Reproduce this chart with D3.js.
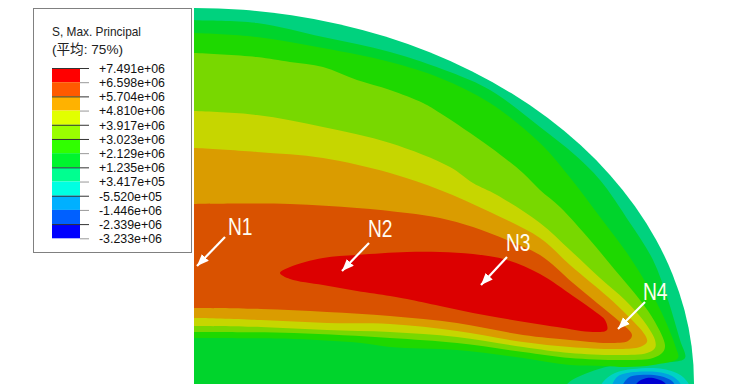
<!DOCTYPE html>
<html>
<head>
<meta charset="utf-8">
<script src="https://cdn.jsdelivr.net/npm/d3@7"></script>
<style>
    body { margin: 0; background: white; }
    svg { display: block; }
    text { font-family: "Liberation Sans", "Noto Sans CJK SC", sans-serif; }
</style>
</head>
<body>
<div id="chart"></div>
<script>

// legend
const legendLabels = ["+7.491e+06", "+6.598e+06", "+5.704e+06", "+4.810e+06", "+3.917e+06", "+3.023e+06", "+2.129e+06",
    "+1.235e+06", "+3.417e+05", "-5.520e+05", "-1.446e+06", "-2.339e+06", "-3.233e+06"]
const legendColors = ["#ff0000", "#ff5a00", "#ffb200", "#e2ff00", "#9aff00", "#30ff00", "#00f52e",
    "#00ff90", "#00ffe2", "#00b0ff", "#0060ff", "#0000ff"]
const legendDarkTicks = [1, 0, 1, 0, 1, 1, 0, 1, 0, 1, 0, 1, 0]

// contour outlines, in model units (half width 500, height 375)
const tealInner = [[-9, 364], [0, 363], [63, 360], [129, 346], [196, 331], [256, 311], [296, 293], [346, 256], [381, 228], [406, 203], [436, 160], [459, 123], [474, 83], [486, 43], [491, 25], [478, 21], [446, 21], [416, 17], [396, 11], [378, 3], [366, -5], [-9, -5]]
const greenBand = [[-9, 350], [0, 350], [63, 346], [129, 335], [196, 321], [246, 305], [296, 280], [346, 240], [378, 203], [406, 166], [433, 130], [456, 93], [471, 63], [482, 35], [484, 25], [459, 18], [433, 16], [409, 17], [376, 18], [329, 25], [263, 33], [196, 36], [167, 40], [100, 44], [0, 45], [-9, 45]]
const limeBand = [[-9, 330], [0, 330], [63, 326], [96, 321], [129, 316], [163, 303], [196, 293], [229, 280], [246, 270], [296, 236], [329, 210], [346, 193], [366, 176], [396, 143], [421, 113], [446, 83], [461, 61], [471, 38], [469, 31], [459, 25], [433, 23], [376, 25], [329, 31], [263, 40], [196, 45], [100, 50], [0, 51], [-9, 51]]
const yellowBand = [[-9, 272], [0, 272], [63, 268], [129, 256], [196, 240], [256, 216], [279, 200], [303, 188], [346, 160], [376, 133], [406, 105], [431, 83], [449, 63], [461, 43], [461, 35], [453, 30], [426, 28], [376, 30], [329, 36], [263, 46], [196, 51], [133, 53], [67, 56], [0, 57], [-9, 57]]
const amberBand = [[-9, 235], [0, 235], [63, 231], [129, 225], [196, 210], [246, 193], [296, 171], [346, 145], [376, 118], [414, 86], [433, 68], [451, 48], [453, 41], [446, 36], [426, 34], [376, 36], [329, 41], [263, 52], [196, 59], [133, 60], [67, 63], [0, 65], [-9, 65]]
const orangeBand = [[-9, 179], [0, 179], [96, 179], [163, 175], [213, 170], [246, 165], [279, 156], [313, 143], [346, 128], [379, 100], [403, 80], [426, 61], [438, 48], [434, 42], [416, 40], [396, 41], [376, 43], [329, 48], [263, 60], [196, 67], [133, 71], [67, 74], [0, 75], [-9, 75]]
const redBand = [[86, 110], [96, 116], [129, 125], [163, 128], [213, 131], [246, 131], [279, 129], [313, 123], [346, 109], [379, 87], [403, 70], [411, 63], [413, 53], [399, 51], [363, 56], [313, 64], [279, 70], [246, 77], [213, 84], [196, 87], [163, 92], [129, 98], [96, 104]]
const cyanBlob = [[406, -7], [409, 1], [421, 10], [439, 14], [469, 14], [489, 6], [496, -7]]
const skyBlob = [[418, -7], [423, 6], [433, 10], [463, 11], [478, 7], [486, 0], [488, -7]]
const blueBlob = [[428, -7], [434, 5], [446, 8], [466, 7], [479, 1], [481, -7]]
const deepBlob = [[441, -7], [443, 0], [453, 5], [463, 4], [471, 0], [473, -7]]

const bands = [tealInner, greenBand, limeBand, yellowBand, amberBand, orangeBand, redBand, cyanBlob, skyBlob, blueBlob, deepBlob]
const bandColors = ["#00d42c", "#1ed800", "#78d800", "#c6d600", "#da9c00", "#d95200", "#dc0000", "#00d2c4", "#00a2e0", "#0058dc", "#0000d2"]

// node callouts
const nodeNames = ["N1", "N2", "N3", "N4"]
const nodeTails = [[31, 146], [175, 140], [313, 126], [451, 81]]
const nodeTips = [[3, 117], [148, 112], [287, 98], [424, 54]]
const nodeLabels = [[34, 148], [174, 146], [312, 132], [449, 83]]

const width = 736
const height = 390

const x = d3.scaleLinear().domain([0, 500]).range([194, 694])
const y = d3.scaleLinear().domain([0, 375]).range([383, 8])

const svg = d3.select("#chart")
    .append("svg")
    .attr("width", width)
    .attr("height", height)
    .attr("viewBox", [0, 0, width, height])

const defs = svg.append("defs")

defs.append("clipPath")
    .attr("id", "plate")
    .append("path")
    .attr("d", `M${x(0)},${y(-1)} L${x(0)},${y(375)} A${x(500) - x(0)},${y(0) - y(375)} 0 0 1 ${x(500)},${y(0)} L${x(500)},${y(-1)} Z`)

defs.append("marker")
    .attr("id", "head")
    .attr("viewBox", "0 0 10 8")
    .attr("refX", 10)
    .attr("refY", 4)
    .attr("markerUnits", "userSpaceOnUse")
    .attr("markerWidth", 12)
    .attr("markerHeight", 10)
    .attr("orient", "auto")
    .append("path")
    .attr("d", "M0,0 L10,4 L0,8 Z")
    .attr("fill", "white")

const plate = svg.append("g").attr("clip-path", "url(#plate)")

// outermost band is the background of the plate
plate.append("rect")
    .attr("x", x(0))
    .attr("y", y(375))
    .attr("width", x(500) - x(0))
    .attr("height", y(-1) - y(375))
    .attr("fill", "#00d27e")

const contour = d3.line()
    .x(d => x(d[0]))
    .y(d => y(d[1]))
    .curve(d3.curveCatmullRomClosed.alpha(0.5))

plate.selectAll("path.band")
    .data(bands)
    .join("path")
    .attr("class", "band")
    .attr("d", contour)
    .attr("fill", (d, i) => bandColors[i])

// callouts
svg.selectAll("line.arrow")
    .data(nodeNames)
    .join("line")
    .attr("class", "arrow")
    .attr("x1", (d, i) => x(nodeTails[i][0]))
    .attr("y1", (d, i) => y(nodeTails[i][1]))
    .attr("x2", (d, i) => x(nodeTips[i][0]))
    .attr("y2", (d, i) => y(nodeTips[i][1]))
    .attr("stroke", "white")
    .attr("stroke-width", 2.2)
    .attr("marker-end", "url(#head)")

svg.selectAll("text.node")
    .data(nodeNames)
    .join("text")
    .attr("class", "node")
    .attr("transform", (d, i) => `translate(${x(nodeLabels[i][0])},${y(nodeLabels[i][1])}) scale(0.8,1)`)
    .attr("font-size", 24)
    .attr("fill", "#fffdf2")
    .text(d => d)

// legend
const legend = svg.append("g")

legend.append("rect")
    .attr("x", 33.5)
    .attr("y", 8.5)
    .attr("width", 158)
    .attr("height", 244)
    .attr("fill", "white")
    .attr("stroke", "#808080")

legend.append("text")
    .attr("x", 52)
    .attr("y", 36)
    .attr("font-size", 13)
    .attr("textLength", 89)
    .attr("lengthAdjust", "spacingAndGlyphs")
    .attr("fill", "#222")
    .text("S, Max. Principal")

legend.append("text")
    .attr("x", 52)
    .attr("y", 54)
    .attr("font-size", 13.5)
    .attr("textLength", 71)
    .attr("lengthAdjust", "spacingAndGlyphs")
    .attr("fill", "#222")
    .text("(平均: 75%)")

const barY = d3.scaleBand().domain(legendColors).range([68, 238.3])

legend.selectAll("rect.cell")
    .data(legendColors)
    .join("rect")
    .attr("class", "cell")
    .attr("x", 52)
    .attr("y", d => barY(d))
    .attr("width", 28)
    .attr("height", barY.bandwidth())
    .attr("fill", d => d)

const tickY = d3.scalePoint().domain(legendLabels).range([68, 238.3])

legend.append("g")
    .attr("transform", "translate(80,0)")
    .call(d3.axisRight(tickY).tickSize(9).tickPadding(10))
    .call(g => g.select(".domain").remove())
    .call(g => g.selectAll(".tick line")
        .attr("x1", (d, i) => legendDarkTicks[i] ? -28 : 0)
        .attr("stroke", (d, i) => legendDarkTicks[i] ? "#333" : "#999"))
    .call(g => g.selectAll(".tick text")
        .attr("font-family", "Liberation Sans")
        .attr("font-size", 13.4)
        .attr("textLength", d => d[0] == "+" ? 66 : 63)
        .attr("lengthAdjust", "spacingAndGlyphs")
        .attr("fill", "#111"))

</script>
</body>
</html>
